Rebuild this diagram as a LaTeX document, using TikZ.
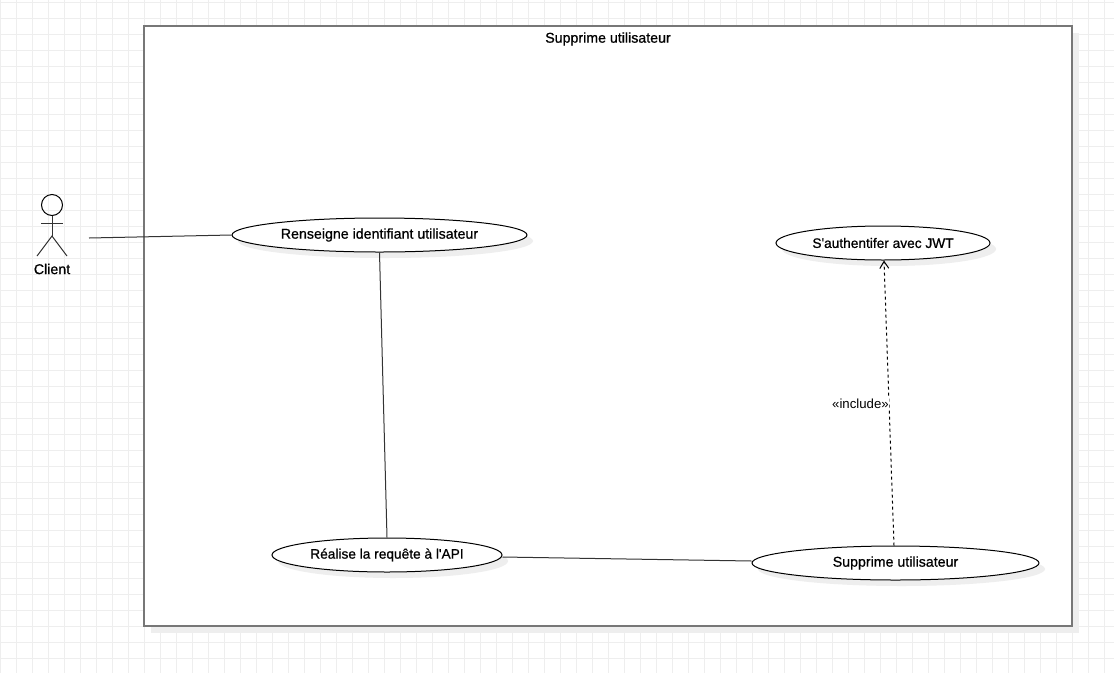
\documentclass[tikz,border=0pt]{standalone}
\usepackage{fontspec}
\setmainfont{Liberation Sans}
\newfontfamily\semibold[FakeBold=0.8]{Liberation Sans}
\usetikzlibrary{shapes.geometric,arrows.meta,calc}
\definecolor{gridc}{HTML}{EEEEEE}
\definecolor{framec}{HTML}{777777}
\definecolor{linec}{HTML}{333333}
\tikzset{
 x=1pt,y=-1pt,
 labelfont/.style={font=\semibold\fontsize{14.2}{16}\selectfont},
 tightfont/.style={font=\semibold\fontsize{13.7}{16}\selectfont},
 usecase/.style={ellipse,draw=black,line width=1pt,fill=white,inner sep=0pt,labelfont,text=black},
 caseshadow/.style={ellipse,fill=gridc,draw=none,inner sep=0pt},
 actorline/.style={draw=linec,line width=1pt},
 assoc/.style={draw=linec,line width=1pt},
 incl/.style={draw=black,line width=1pt,dash pattern=on 3pt off 3pt,-{Straight Barb[length=7pt,width=9pt,line width=1pt]}},
}
\begin{document}
\begin{tikzpicture}
\useasboundingbox (0,0) rectangle (1114,673);
\fill[white] (0,0) rectangle (1114,673);
\foreach \g in {0,16,...,1104}{\draw[gridc,line width=1pt] (\g+0.5,0) -- (\g+0.5,673);}
\foreach \g in {2,18,...,666}{\draw[gridc,line width=1pt] (0,\g+0.5) -- (1114,\g+0.5);}
% frame
\fill[gridc] (151,33) rectangle (1079,633);
\node[draw=framec,fill=white,line width=2pt,minimum width=928pt,minimum height=600pt,inner sep=0pt,anchor=north west] (frame) at (143.4,25.4) {};
\node[labelfont,anchor=center] (title) at (608,39) {Supprime utilisateur};
% shadows
\node[caseshadow,minimum width=295pt,minimum height=34pt] (s1) at (385.5,241) {};
\node[caseshadow,minimum width=214pt,minimum height=34pt] (s2) at (889,249) {};
\node[caseshadow,minimum width=230pt,minimum height=34pt] (s3) at (393,561) {};
\node[caseshadow,minimum width=287pt,minimum height=34pt] (s4) at (901.5,569) {};
% use cases
\node[usecase,minimum width=295pt,minimum height=34pt] (e1) at (379.5,235) {Renseigne identifiant utilisateur};
\node[usecase,tightfont,minimum width=214pt,minimum height=34pt] (e2) at (883,243) {S'authentifer avec JWT};
\node[usecase,tightfont,minimum width=230pt,minimum height=34pt] (e3) at (387,555) {Réalise la requête à l'API};
\node[usecase,minimum width=287pt,minimum height=34pt] (e4) at (895.5,563) {Supprime utilisateur};
% actor
\node[circle,draw=black,line width=1pt,minimum size=21pt,inner sep=0pt] (head) at (52,205) {};
\coordinate (hip) at (52,236);
\coordinate (armL) at (41,223);
\coordinate (armR) at (63,223);
\coordinate (legL) at (37,256);
\coordinate (legR) at (67,256);
\draw[actorline] (head.south) -- (hip);
\draw[actorline] (armL) -- (armR);
\draw[actorline] (legL) -- (hip) -- (legR);
\node[labelfont] (client) at (52,269) {Client};
% connectors
\coordinate (actorend) at (89,238);
\draw[assoc] (actorend) -- (e1.west);
\draw[assoc] (e1.south) -- (e3.north);
\draw[assoc] ($(e3.east)+(0,2)$) -- ($(e4.west)+(0,-2)$);
\draw[incl] ($(e4.north)+(-1.5,0)$) -- ($(e2.south)+(1,0)$) node[pos=0.5,left=-1.5pt,xshift=-0.8pt,yshift=-0.5pt,font=\fontsize{13.2}{15}\selectfont,fill=white,inner sep=0.5pt] (lab) {«include»};
\end{tikzpicture}
\end{document}
